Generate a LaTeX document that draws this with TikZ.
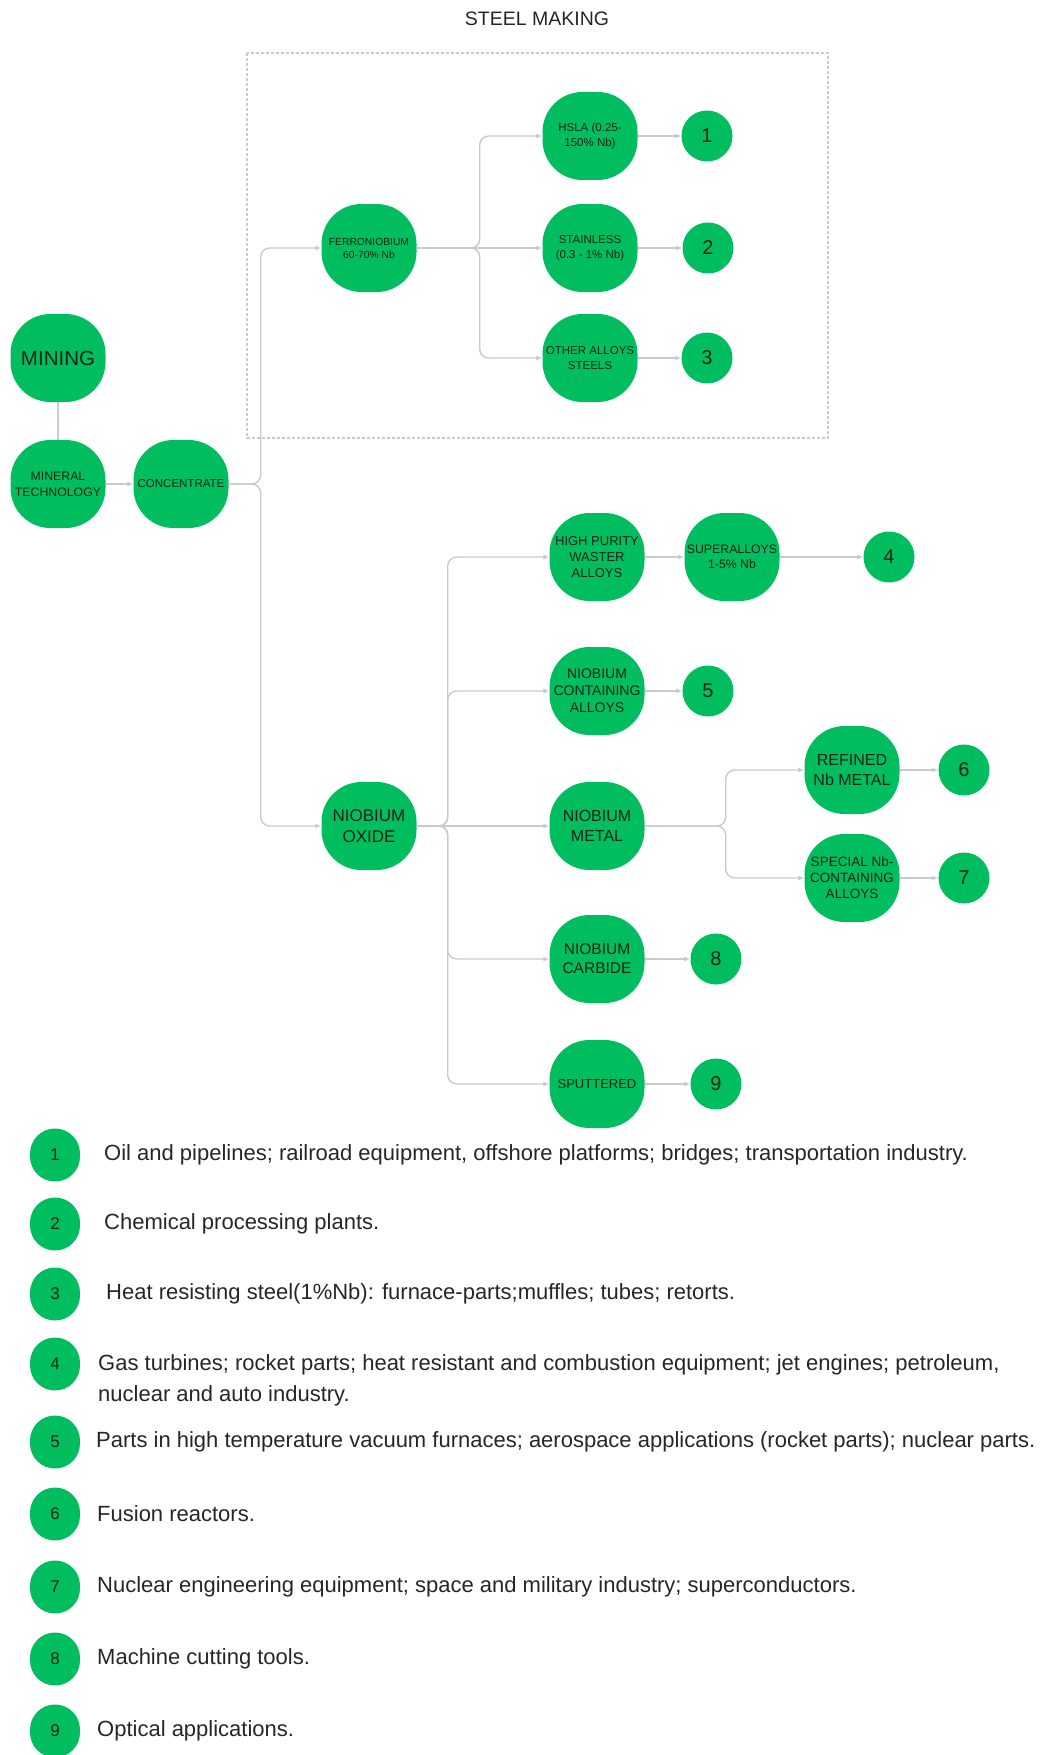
\documentclass[tikz,border=0pt]{standalone}
\usepackage{fontspec}
\setmainfont{Liberation Sans}
\usetikzlibrary{
  arrows.meta
}
\definecolor{nbgreen}{RGB}{0,190,95}
\definecolor{nbink}{RGB}{18,36,22}
\definecolor{wire}{RGB}{200,202,205}
\newcommand{\sz}[2]{\fontsize{#1}{#2}\selectfont}

\begin{document}
\begin{tikzpicture}[x=1pt, y=-1pt,
  blob/.style = {shape=rectangle, rounded corners=40pt, fill=nbgreen,
    minimum width=95pt, minimum height=88pt, inner sep=1pt,
    align=center, text=nbink},
  num/.style = {shape=circle, fill=nbgreen, minimum size=51pt,
    inner sep=0pt, text=nbink, font=\sz{20}{20}},
  key/.style = {shape=rectangle, rounded corners=25pt, fill=nbgreen,
    minimum width=50pt, minimum height=53pt, inner sep=0pt,
    text=nbink, font=\sz{17}{17}},
  note/.style = {anchor=west, inner sep=0pt, align=left, text=black!85,
    font=\sz{22}{31}}]
  \tikzstyle{link}=[draw=wire, line width=1.4pt, rounded corners=9pt,
    -{Latex[length=6pt, width=5pt]}]
  \useasboundingbox (0,0) rectangle (1046,1755);

  \node[font=\sz{19.5}{22}, text=black!85] (title) at (537,19) {STEEL MAKING};
  \draw[wire, line width=1.2pt, densely dashed] (247,53) rectangle (828,438);

  % mining to concentrate
  \node[blob, font=\sz{20.5}{23}] (mine) at (58,358) {MINING};
  \node[blob, font=\sz{12.3}{16}] (mintec) at (58,484) {MINERAL\\TECHNOLOGY};
  \node[blob, font=\sz{11.5}{14}] (conc) at (181,484) {CONCENTRATE};

  % steel making branch
  \node[blob, font=\sz{10.3}{13}] (ferro) at (369,248) {FERRONIOBIUM\\60-70\% Nb};
  \node[blob, font=\sz{11.5}{15}] (hsla) at (590,136) {HSLA (0.25-\\150\% Nb)};
  \node[blob, font=\sz{11.5}{15}] (stain) at (590,248) {STAINLESS\\(0.3 - 1\% Nb)};
  \node[blob, font=\sz{11.5}{15}] (other) at (590,358) {OTHER ALLOYS\\STEELS};
  \node[num] (n1) at (707,136) {1};
  \node[num] (n2) at (708,248) {2};
  \node[num] (n3) at (707,358) {3};

  % niobium oxide branch
  \node[blob, font=\sz{17}{21}] (nbox) at (369,826) {NIOBIUM\\OXIDE};
  \node[blob, font=\sz{13}{16}] (hpwa) at (597,557) {HIGH PURITY\\WASTER\\ALLOYS};
  \node[blob, font=\sz{12.3}{15}] (super) at (732,557) {SUPERALLOYS\\1-5\% Nb};
  \node[blob, font=\sz{14}{17}] (nca) at (597,691) {NIOBIUM\\CONTAINING\\ALLOYS};
  \node[blob, font=\sz{16}{20}] (nmet) at (597,826) {NIOBIUM\\METAL};
  \node[blob, font=\sz{16}{20}] (refd) at (852,770) {REFINED\\Nb METAL};
  \node[blob, font=\sz{13.5}{16}] (spec) at (852,878) {SPECIAL Nb-\\CONTAINING\\ALLOYS};
  \node[blob, font=\sz{15.5}{19}] (ncarb) at (597,959) {NIOBIUM\\CARBIDE};
  \node[blob, font=\sz{13}{16}] (sput) at (597,1084) {SPUTTERED};
  \node[num] (n4) at (889,557) {4};
  \node[num] (n5) at (708,691) {5};
  \node[num] (n6) at (964,770) {6};
  \node[num] (n7) at (964,878) {7};
  \node[num] (n8) at (716,959) {8};
  \node[num] (n9) at (716,1084) {9};

  % connectors
  \draw[link, -] (mine) -- (mintec);
  \draw[link] (mintec) -- (conc);
  \draw[link] (conc.east) -- ++(32,0) |- (ferro.west);
  \draw[link] (conc.east) -- ++(32,0) |- (nbox.west);
  \draw[link] (ferro.east) -- ++(63,0) |- (hsla.west);
  \draw[link] (ferro.east) -- ++(63,0) |- (other.west);
  \draw[link] (ferro) -- (stain);
  \foreach \c in {hpwa,nca,ncarb,sput}
    \draw[link] (nbox.east) -- ++(31,0) |- (\c.west);
  \draw[link] (nbox) -- (nmet);
  \draw[link] (nmet.east) -- ++(81,0) |- (refd.west);
  \draw[link] (nmet.east) -- ++(81,0) |- (spec.west);
  \foreach \a/\b in {hsla/n1, stain/n2, other/n3, hpwa/super, super/n4,
      nca/n5, refd/n6, spec/n7, ncarb/n8, sput/n9}
    \draw[link] (\a) -- (\b);

  % legend
  \foreach \k/\y/\x/\ty/\txt in {
      1/1155/104/1155/{Oil and pipelines; railroad equipment, offshore platforms; bridges; transportation industry.},
      2/1224/104/1224/{Chemical processing plants.},
      3/1294/106/1294/{Heat resisting steel(1\%Nb): furnace-parts;muffles; tubes; retorts.},
      4/1364/98/1380/{Gas turbines; rocket parts; heat resistant and combustion equipment; jet engines; petroleum,\\nuclear and auto industry.},
      5/1442/96/1442/{Parts in high temperature vacuum furnaces; aerospace applications (rocket parts); nuclear parts.},
      6/1514/97/1514/{Fusion reactors.},
      7/1587/97/1587/{Nuclear engineering equipment; space and military industry; superconductors.},
      8/1659/97/1659/{Machine cutting tools.},
      9/1731/97/1731/{Optical applications.}}
  {
    \node[key] (key\k) at (55,\y) {\k};
    \node[note] (use\k) at (\x,\ty) {\txt};
  }
\end{tikzpicture}
\end{document}
